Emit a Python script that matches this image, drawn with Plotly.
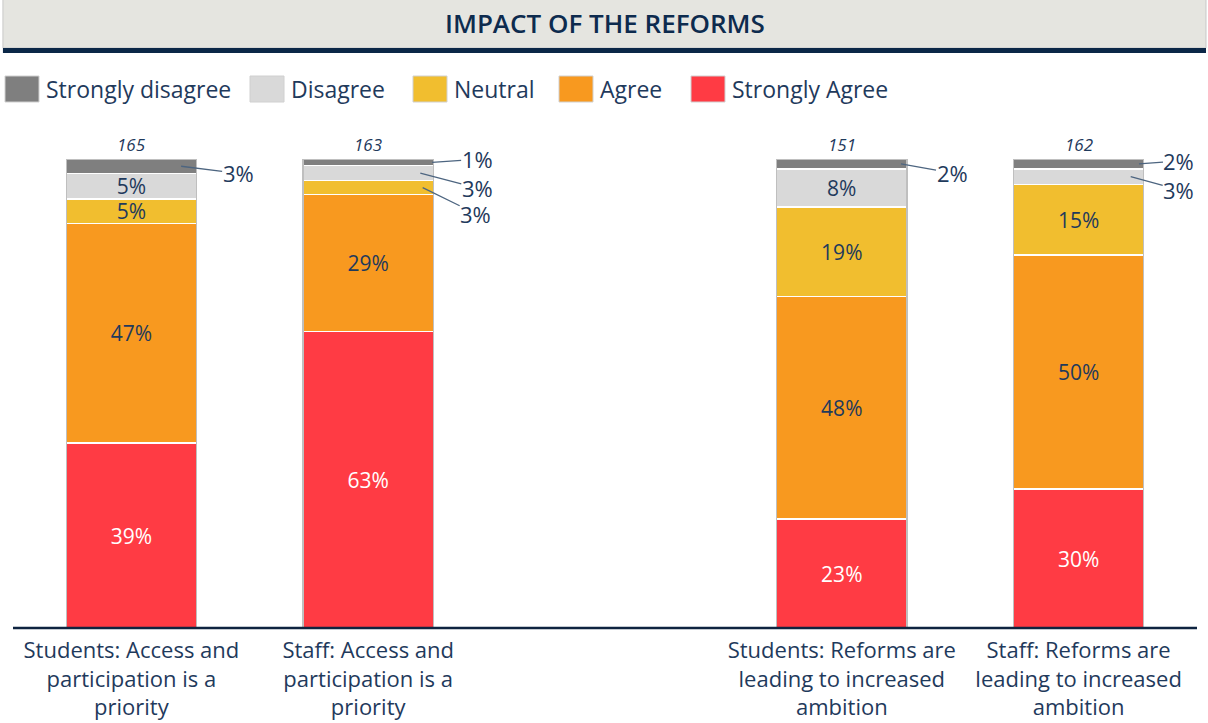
import plotly.graph_objects as go

# chart data
questions = [
    "Students: Access and<br>participation is a<br>priority",
    "Staff: Access and<br>participation is a<br>priority",
    "Students: Reforms are<br>leading to increased<br>ambition",
    "Staff: Reforms are<br>leading to increased<br>ambition",
]
positions = [0, 1, 3, 4]
respondents = [165, 163, 151, 162]

strongly_agree = [39.4, 63.2, 23.2, 29.6]
agree = [46.9, 29.2, 47.5, 49.9]
neutral = [5.2, 3.0, 19.1, 15.1]
disagree = [5.4, 3.2, 8.1, 3.3]
strongly_disagree = [3.1, 1.4, 2.1, 2.1]

NAVY = "#1f3a5c"
FONT = "Open Sans"

series = [
    ("Strongly Agree", strongly_agree, "#ff3b44", "white"),
    ("Agree", agree, "#f8991f", NAVY),
    ("Neutral", neutral, "#f1be2f", NAVY),
    ("Disagree", disagree, "#d9d9d9", NAVY),
    ("Strongly disagree", strongly_disagree, "#7f7f7f", NAVY),
]

fig = go.Figure()
for name, vals, color, tcol in series:
    labels = [f"{v:.0f}%" if round(v) >= 5 else "" for v in vals]
    fig.add_trace(go.Bar(
        x=positions, y=vals, name=name, width=0.55,
        marker=dict(color=color, line=dict(color="white", width=1.5)),
        text=labels, textposition="inside", insidetextanchor="middle",
        textangle=0, constraintext="none",
        textfont=dict(family=FONT, size=21, color=tcol),
        hovertemplate="%{y:.0f}%<extra>" + name + "</extra>",
        showlegend=False,
    ))

# thin grey outline round each whole bar
totals = [sum(s[1][i] for s in series) for i in range(len(positions))]
fig.add_trace(go.Bar(
    x=positions, y=totals, width=0.55, xaxis="x2",
    marker=dict(color="rgba(0,0,0,0)", line=dict(color="#bfbfbf", width=1.5)),
    hoverinfo="skip", showlegend=False,
))

# respondent counts above bars
for p, n in zip(positions, respondents):
    fig.add_annotation(x=p, y=100, text=f"<i>{n}</i>", showarrow=False,
                       yanchor="bottom", yshift=1,
                       font=dict(family=FONT, size=17, color=NAVY))

# leader-line labels for small segments: (bar index, segment, dx, ax, ay)
callouts = [
    (0, "Strongly disagree", 0.21, 57, 7),
    (1, "Strongly disagree", 0.27, 45, -3),
    (1, "Disagree", 0.22, 57, 15),
    (1, "Neutral", 0.23, 53, 26),
    (2, "Strongly disagree", 0.25, 51, 9),
    (3, "Strongly disagree", 0.255, 40, -3),
    (3, "Disagree", 0.22, 48, 13),
]
order = [s[0] for s in series]
for i, seg, dx, ax, ay in callouts:
    k = order.index(seg)
    base = sum(series[j][1][i] for j in range(k))
    v = series[k][1][i]
    fig.add_annotation(x=positions[i] + dx, y=base + v / 2,
                       text=f"{v:.0f}%", showarrow=True, arrowhead=0,
                       arrowwidth=1.3, arrowcolor="#4d6580", ax=ax, ay=ay,
                       borderpad=0,
                       font=dict(family=FONT, size=22, color=NAVY))

# title band
fig.add_shape(type="rect", xref="paper", yref="paper", x0=-0.0085, x1=1.0076,
              y0=1.2367, y1=1.345, fillcolor="#e5e5e0",
              line=dict(color="#c8c8c8", width=1), layer="below")
fig.add_shape(type="rect", xref="paper", yref="paper", x0=-0.0085, x1=1.0076,
              y0=1.226, y1=1.2367, fillcolor="#0b2747", line=dict(width=0))
fig.add_annotation(xref="paper", yref="paper", x=0.5, y=(628 - 23) / 469,
                   xanchor="center", yanchor="middle",
                   text="IMPACT OF THE REFORMS", showarrow=False,
                   font=dict(family=FONT, size=26, color="#0d2b4e", weight=600))

# custom legend with large swatches
legend_items = ["Strongly disagree", "Disagree", "Neutral", "Agree", "Strongly Agree"]
legend_x = [5, 250, 413, 559, 691]
colors = {s[0]: s[2] for s in series}
for name, px in zip(legend_items, legend_x):
    x0 = (px - 13) / 1184
    x1 = (px + 34 - 13) / 1184
    fig.add_shape(type="rect", xref="paper", yref="paper", x0=x0, x1=x1,
                  y0=(628 - 102) / 469, y1=(628 - 76) / 469,
                  fillcolor=colors[name], line=dict(color="#d0d0d0", width=1))
    fig.add_annotation(xref="paper", yref="paper", x=(px + 39 - 13) / 1184,
                       y=(628 - 89) / 469, text=name, showarrow=False,
                       xanchor="left", yanchor="middle",
                       font=dict(family=FONT, size=23, color=NAVY))

# axis line
fig.add_shape(type="line", xref="paper", yref="paper", x0=0, x1=1.0, y0=0, y1=0,
              line=dict(color="#0f2440", width=2.5))

fig.update_layout(
    barmode="stack",
    width=1208, height=723,
    margin=dict(l=13, r=11, t=159, b=95),
    paper_bgcolor="white", plot_bgcolor="white",
    font=dict(family=FONT, color=NAVY),
    xaxis=dict(range=[-0.5, 4.5], tickvals=positions, ticktext=questions,
               showgrid=False, zeroline=False, showline=False, ticks="",
               ticklabelstandoff=7, automargin=False,
               tickfont=dict(family=FONT, size=22, color=NAVY)),
    xaxis2=dict(range=[-0.5, 4.5], overlaying="x", visible=False),
    yaxis=dict(range=[0, 100], visible=False),
)

fig.write_html("out.html", config={"displayModeBar": False},
               post_script="document.body.style.margin='0px';")
